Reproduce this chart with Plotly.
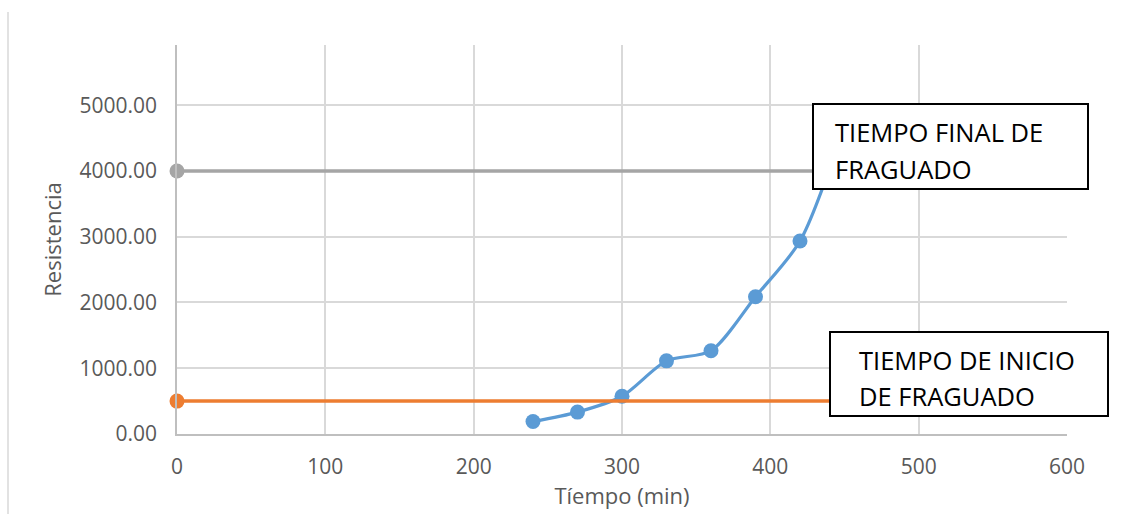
import plotly.graph_objects as go

tiempo = [240, 270, 300, 330, 360, 390, 420, 450]
resistencia = [190, 333, 574, 1112, 1266, 2088, 2934, 4700]

ref_x = [0, 600]
inicio_y = [500, 500]
final_y = [4000, 4000]

y_ticks = [0, 1000, 2000, 3000, 4000, 5000]
y_tick_text = ["0.00", "1000.00", "2000.00", "3000.00", "4000.00", "5000.00"]
x_ticks = [0, 100, 200, 300, 400, 500, 600]

FONT = "Open Sans"
GREY_TXT = "#595959"

fig = go.Figure()
fig.add_trace(go.Scatter(
    x=tiempo, y=resistencia, mode="lines+markers",
    line=dict(color="#5B9BD5", width=3.2, shape="spline", smoothing=0.8),
    marker=dict(color="#5B9BD5", size=15), cliponaxis=False, showlegend=False))
fig.add_trace(go.Scatter(
    x=ref_x, y=inicio_y, mode="lines+markers",
    line=dict(color="#ED7D31", width=3.5),
    marker=dict(color="#ED7D31", size=15), cliponaxis=False, showlegend=False))
fig.add_trace(go.Scatter(
    x=ref_x, y=final_y, mode="lines+markers",
    line=dict(color="#A5A5A5", width=3.5),
    marker=dict(color="#A5A5A5", size=15), cliponaxis=False, showlegend=False))

L, R, T, B = 177, 73, 45, 80
PW, PH = 1140 - L - R, 514 - T - B

def px(xp):
    return (xp - L) / PW

def py(yp):
    return (514 - B - yp) / PH

shapes = [
    dict(type="line", xref="paper", yref="paper", x0=px(8), x1=px(8), y0=py(514), y1=py(12),
         line=dict(color="#d9d9d9", width=1.5)),
    dict(type="rect", xref="paper", yref="paper", x0=px(813), x1=px(1088), y0=py(189), y1=py(104),
         line=dict(color="black", width=2), fillcolor="white", layer="above"),
    dict(type="rect", xref="paper", yref="paper", x0=px(830), x1=px(1108), y0=py(416), y1=py(332),
         line=dict(color="black", width=2), fillcolor="white", layer="above"),
]

annotations = []
for text, xl, yc in [("TIEMPO FINAL DE", 833, 132), ("FRAGUADO", 833, 169),
                     ("TIEMPO DE INICIO", 857, 360), ("DE FRAGUADO", 857, 396)]:
    annotations.append(dict(text=text, xref="paper", yref="paper", x=px(xl), y=py(yc),
                            xanchor="left", yanchor="middle", showarrow=False,
                            font=dict(family=FONT, size=25.5, color="black")))

fig.update_layout(
    width=1140, height=514,
    margin=dict(l=L, r=R, t=T, b=B),
    paper_bgcolor="white", plot_bgcolor="white",
    font=dict(family=FONT, color=GREY_TXT),
    shapes=shapes, annotations=annotations,
    xaxis=dict(range=[0, 600], tickvals=x_ticks, showgrid=True, gridcolor="#d9d9d9", gridwidth=1.5,
               zeroline=False, showline=True, linecolor="#bfbfbf", linewidth=1.5,
               tickfont=dict(size=21, color=GREY_TXT), ticks="", ticklabelstandoff=13,
               title=dict(text="Tíempo (min)", font=dict(size=22, color=GREY_TXT), standoff=8)),
    yaxis=dict(range=[0, 5915], tickvals=y_ticks, ticktext=y_tick_text, showgrid=True,
               gridcolor="#d9d9d9", gridwidth=1.5, zeroline=False, showline=True,
               linecolor="#bfbfbf", linewidth=1.5,
               tickfont=dict(size=21, color=GREY_TXT), ticks="", ticklabelstandoff=14,
               title=dict(text="Resistencia", font=dict(size=22, color=GREY_TXT), standoff=12)),
)

fig.write_html("out.html")
